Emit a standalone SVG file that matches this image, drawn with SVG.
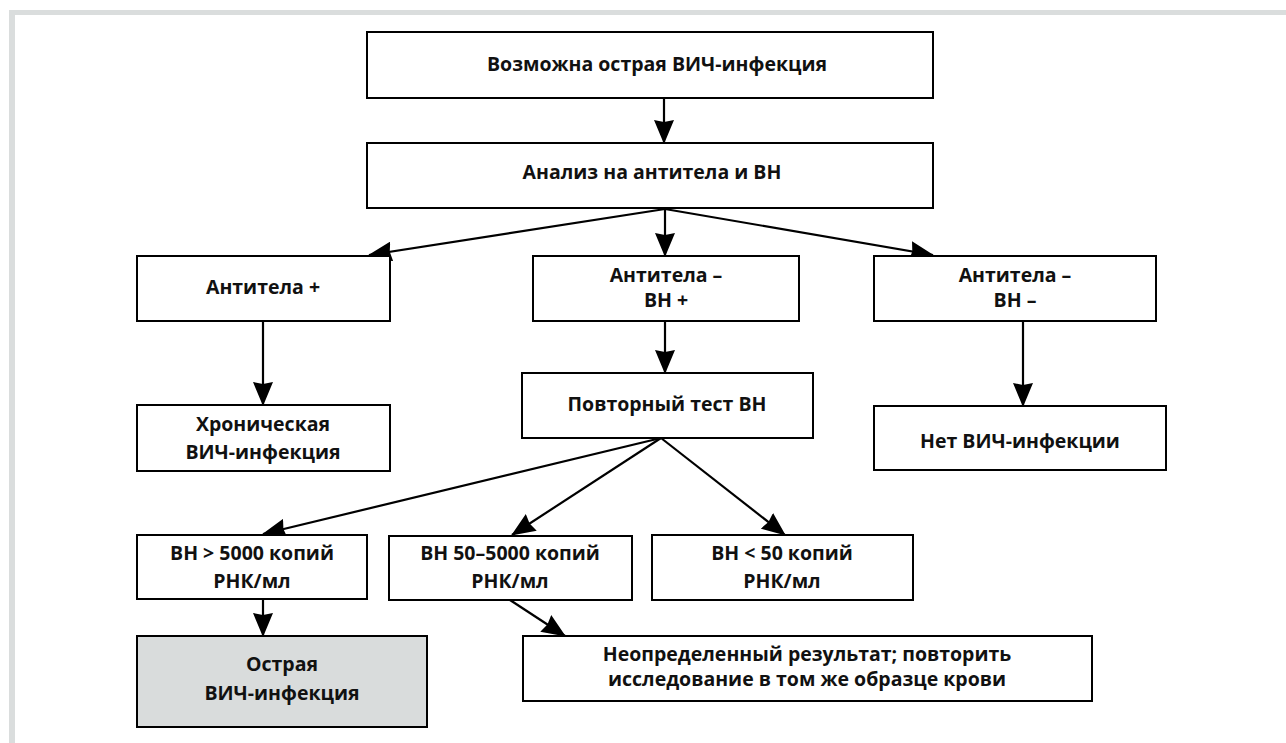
<svg xmlns="http://www.w3.org/2000/svg" width="1286" height="743" viewBox="0 0 1286 743">
<style>
  .box{fill:#ffffff;stroke:#000000;stroke-width:2}
  .grey{fill:#d9dcdc}
  .t{font-family:"Open Sans","Noto Sans","Liberation Sans",sans-serif;font-weight:bold;font-size:19.5px;fill:#111111;text-anchor:middle}
  .c{stroke:#000000;stroke-width:2.2;fill:none;marker-end:url(#ah)}
</style>
<defs>
  <marker id="ah" markerUnits="userSpaceOnUse" markerWidth="24" markerHeight="20" refX="23" refY="10" orient="auto" viewBox="0 0 24 20">
    <path d="M0,0 L24,10 L0,20 L2,10 z" fill="#000000"/>
  </marker>
</defs>
<rect x="0" y="0" width="1286" height="743" fill="#ffffff"/>
<g id="frame">
  <rect x="9" y="10" width="1277" height="5" fill="#dadddd"/>
  <rect x="9" y="10" width="6" height="733" fill="#dadddd"/>
</g>
<g id="connectors">
  <line class="c" x1="664" y1="98" x2="664" y2="143"/>
  <line class="c" x1="665" y1="209" x2="369" y2="255"/>
  <line class="c" x1="665" y1="209" x2="665" y2="256"/>
  <line class="c" x1="665" y1="209" x2="933" y2="255"/>
  <line class="c" x1="263" y1="321" x2="263" y2="405"/>
  <line class="c" x1="665" y1="321" x2="665" y2="373"/>
  <line class="c" x1="1023" y1="321" x2="1023" y2="406"/>
  <line class="c" x1="661" y1="438" x2="263" y2="534"/>
  <line class="c" x1="661" y1="438" x2="512" y2="535"/>
  <line class="c" x1="661" y1="438" x2="785" y2="535"/>
  <line class="c" x1="263" y1="600" x2="263" y2="636"/>
  <line class="c" x1="510" y1="600" x2="565" y2="636"/>
</g>
<g id="n1"><rect class="box" x="367" y="32" width="566" height="66"/><text class="t" x="657" y="71">Возможна острая ВИЧ-инфекция</text></g>
<g id="n2"><rect class="box" x="367" y="143" width="566" height="65"/><text class="t" x="652" y="179">Анализ на антитела и ВН</text></g>
<g id="n3"><rect class="box" x="137" y="256" width="253" height="65"/><text class="t" x="263" y="294">Антитела +</text></g>
<g id="n4"><rect class="box" x="533" y="256" width="266" height="65"/><text class="t" x="666" y="282">Антитела –</text><text class="t" x="666" y="307">ВН +</text></g>
<g id="n5"><rect class="box" x="874" y="256" width="282" height="65"/><text class="t" x="1015" y="282">Антитела –</text><text class="t" x="1015" y="307">ВН –</text></g>
<g id="n6"><rect class="box" x="137" y="405" width="253" height="66"/><text class="t" x="263" y="431">Хроническая</text><text class="t" x="263" y="459">ВИЧ-инфекция</text></g>
<g id="n7"><rect class="box" x="522" y="373" width="291" height="65"/><text class="t" x="667" y="411">Повторный тест ВН</text></g>
<g id="n8"><rect class="box" x="874" y="406" width="292" height="64"/><text class="t" x="1020" y="448">Нет ВИЧ-инфекции</text></g>
<g id="n9"><rect class="box" x="137" y="535" width="230" height="64"/><text class="t" x="252" y="560">ВН &gt; 5000 копий</text><text class="t" x="252" y="588">РНК/мл</text></g>
<g id="n10"><rect class="box" x="389" y="536" width="243" height="64"/><text class="t" x="510" y="560">ВН 50–5000 копий</text><text class="t" x="510" y="588">РНК/мл</text></g>
<g id="n11"><rect class="box" x="652" y="535" width="261" height="65"/><text class="t" x="782" y="560">ВН &lt; 50 копий</text><text class="t" x="782" y="588">РНК/мл</text></g>
<g id="n12"><rect class="box grey" x="137" y="636" width="290" height="91"/><text class="t" x="282" y="671">Острая</text><text class="t" x="282" y="700">ВИЧ-инфекция</text></g>
<g id="n13"><rect class="box" x="523" y="636" width="569" height="65"/><text class="t" x="807" y="661">Неопределенный результат; повторить</text><text class="t" x="807" y="686">исследование в том же образце крови</text></g>
</svg>
